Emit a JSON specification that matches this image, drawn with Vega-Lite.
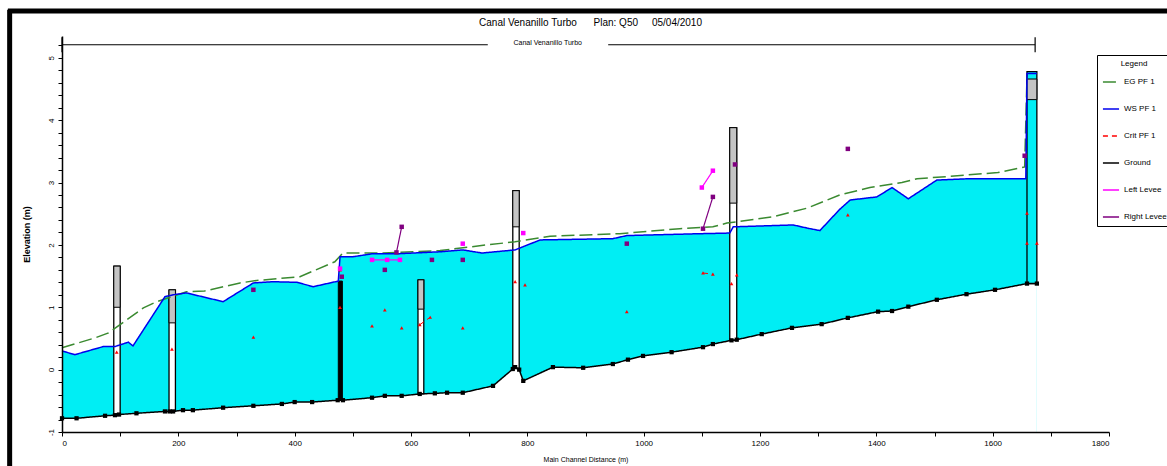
{
  "$schema": "https://vega.github.io/schema/vega-lite/v6.json",
  "width": 1047,
  "height": 396,
  "autosize": {"type": "none"},
  "padding": {"left": 62, "top": 36, "right": 58, "bottom": 34},
  "background": "white",
  "title": {"text": "Canal Venanillo Turbo\u00a0\u00a0\u00a0\u00a0\u00a0\u00a0Plan: Q50\u00a0\u00a0\u00a0\u00a0\u00a005/04/2010", "fontSize": 10, "font": "Liberation Sans", "fontWeight": "normal", "offset": -21, "anchor": "middle", "dx": 5, "color": "black"},
  "config": {"view": {"stroke": null}, "font": "Liberation Sans"},
  "datasets": {
    "ground": [
      {"s": "Ground", "m": 0, "v": -0.78}, {"s": "Ground", "m": 25, "v": -0.78}, {"s": "Ground", "m": 74, "v": -0.74}, {"s": "Ground", "m": 91, "v": -0.73}, {"s": "Ground", "m": 98, "v": -0.72},
      {"s": "Ground", "m": 128, "v": -0.70}, {"s": "Ground", "m": 177, "v": -0.67}, {"s": "Ground", "m": 185, "v": -0.67}, {"s": "Ground", "m": 191, "v": -0.67}, {"s": "Ground", "m": 208, "v": -0.65},
      {"s": "Ground", "m": 225, "v": -0.65}, {"s": "Ground", "m": 277, "v": -0.61}, {"s": "Ground", "m": 329, "v": -0.58}, {"s": "Ground", "m": 378, "v": -0.55}, {"s": "Ground", "m": 400, "v": -0.52},
      {"s": "Ground", "m": 430, "v": -0.52}, {"s": "Ground", "m": 474, "v": -0.49}, {"s": "Ground", "m": 483, "v": -0.49}, {"s": "Ground", "m": 533, "v": -0.45}, {"s": "Ground", "m": 555, "v": -0.42},
      {"s": "Ground", "m": 584, "v": -0.42}, {"s": "Ground", "m": 615, "v": -0.39}, {"s": "Ground", "m": 641, "v": -0.38}, {"s": "Ground", "m": 662, "v": -0.37}, {"s": "Ground", "m": 689, "v": -0.37},
      {"s": "Ground", "m": 741, "v": -0.26}, {"s": "Ground", "m": 775, "v": 0.01}, {"s": "Ground", "m": 779, "v": 0.04}, {"s": "Ground", "m": 786, "v": 0.0}, {"s": "Ground", "m": 793, "v": -0.18},
      {"s": "Ground", "m": 844, "v": 0.04}, {"s": "Ground", "m": 896, "v": 0.03}, {"s": "Ground", "m": 947, "v": 0.09}, {"s": "Ground", "m": 973, "v": 0.16}, {"s": "Ground", "m": 999, "v": 0.22},
      {"s": "Ground", "m": 1048, "v": 0.28}, {"s": "Ground", "m": 1102, "v": 0.36}, {"s": "Ground", "m": 1119, "v": 0.41}, {"s": "Ground", "m": 1151, "v": 0.47}, {"s": "Ground", "m": 1160, "v": 0.48},
      {"s": "Ground", "m": 1203, "v": 0.57}, {"s": "Ground", "m": 1255, "v": 0.67}, {"s": "Ground", "m": 1306, "v": 0.73}, {"s": "Ground", "m": 1351, "v": 0.83}, {"s": "Ground", "m": 1403, "v": 0.93},
      {"s": "Ground", "m": 1427, "v": 0.94}, {"s": "Ground", "m": 1455, "v": 1.01}, {"s": "Ground", "m": 1504, "v": 1.12}, {"s": "Ground", "m": 1555, "v": 1.21}, {"s": "Ground", "m": 1604, "v": 1.28},
      {"s": "Ground", "m": 1659, "v": 1.38}, {"s": "Ground", "m": 1676, "v": 1.38}
    ],
    "ws": [
      {"s": "WS PF 1", "m": 0, "v": 0.30}, {"s": "WS PF 1", "m": 22, "v": 0.24}, {"s": "WS PF 1", "m": 71, "v": 0.37}, {"s": "WS PF 1", "m": 91, "v": 0.37}, {"s": "WS PF 1", "m": 114, "v": 0.44},
      {"s": "WS PF 1", "m": 122, "v": 0.38}, {"s": "WS PF 1", "m": 177, "v": 1.17}, {"s": "WS PF 1", "m": 191, "v": 1.20}, {"s": "WS PF 1", "m": 214, "v": 1.23}, {"s": "WS PF 1", "m": 277, "v": 1.09},
      {"s": "WS PF 1", "m": 329, "v": 1.39}, {"s": "WS PF 1", "m": 363, "v": 1.41}, {"s": "WS PF 1", "m": 404, "v": 1.40}, {"s": "WS PF 1", "m": 432, "v": 1.33}, {"s": "WS PF 1", "m": 475, "v": 1.42},
      {"s": "WS PF 1", "m": 478, "v": 1.81}, {"s": "WS PF 1", "m": 500, "v": 1.81}, {"s": "WS PF 1", "m": 535, "v": 1.86}, {"s": "WS PF 1", "m": 581, "v": 1.86}, {"s": "WS PF 1", "m": 650, "v": 1.89},
      {"s": "WS PF 1", "m": 689, "v": 1.92}, {"s": "WS PF 1", "m": 722, "v": 1.87}, {"s": "WS PF 1", "m": 779, "v": 1.92}, {"s": "WS PF 1", "m": 822, "v": 2.08}, {"s": "WS PF 1", "m": 947, "v": 2.10},
      {"s": "WS PF 1", "m": 971, "v": 2.15}, {"s": "WS PF 1", "m": 1097, "v": 2.18}, {"s": "WS PF 1", "m": 1148, "v": 2.19}, {"s": "WS PF 1", "m": 1154, "v": 2.29}, {"s": "WS PF 1", "m": 1257, "v": 2.32},
      {"s": "WS PF 1", "m": 1281, "v": 2.27}, {"s": "WS PF 1", "m": 1303, "v": 2.23}, {"s": "WS PF 1", "m": 1337, "v": 2.57}, {"s": "WS PF 1", "m": 1355, "v": 2.72}, {"s": "WS PF 1", "m": 1401, "v": 2.77},
      {"s": "WS PF 1", "m": 1427, "v": 2.92}, {"s": "WS PF 1", "m": 1455, "v": 2.74}, {"s": "WS PF 1", "m": 1504, "v": 3.04}, {"s": "WS PF 1", "m": 1555, "v": 3.06}, {"s": "WS PF 1", "m": 1657, "v": 3.06},
      {"s": "WS PF 1", "m": 1659, "v": 4.75}, {"s": "WS PF 1", "m": 1676, "v": 4.75}
    ],
    "eg": [
      {"s": "EG PF 1", "m": 0, "v": 0.35}, {"s": "EG PF 1", "m": 57, "v": 0.51}, {"s": "EG PF 1", "m": 80, "v": 0.59}, {"s": "EG PF 1", "m": 140, "v": 0.99}, {"s": "EG PF 1", "m": 163, "v": 1.09},
      {"s": "EG PF 1", "m": 214, "v": 1.25}, {"s": "EG PF 1", "m": 245, "v": 1.26}, {"s": "EG PF 1", "m": 306, "v": 1.39}, {"s": "EG PF 1", "m": 335, "v": 1.43}, {"s": "EG PF 1", "m": 409, "v": 1.49},
      {"s": "EG PF 1", "m": 469, "v": 1.73}, {"s": "EG PF 1", "m": 483, "v": 1.87}, {"s": "EG PF 1", "m": 552, "v": 1.87}, {"s": "EG PF 1", "m": 650, "v": 1.91}, {"s": "EG PF 1", "m": 730, "v": 2.0},
      {"s": "EG PF 1", "m": 779, "v": 2.05}, {"s": "EG PF 1", "m": 839, "v": 2.14}, {"s": "EG PF 1", "m": 959, "v": 2.18}, {"s": "EG PF 1", "m": 1062, "v": 2.26}, {"s": "EG PF 1", "m": 1119, "v": 2.29},
      {"s": "EG PF 1", "m": 1143, "v": 2.35}, {"s": "EG PF 1", "m": 1222, "v": 2.45}, {"s": "EG PF 1", "m": 1281, "v": 2.59}, {"s": "EG PF 1", "m": 1337, "v": 2.80}, {"s": "EG PF 1", "m": 1389, "v": 2.92},
      {"s": "EG PF 1", "m": 1444, "v": 3.00}, {"s": "EG PF 1", "m": 1470, "v": 3.06}, {"s": "EG PF 1", "m": 1527, "v": 3.10}, {"s": "EG PF 1", "m": 1609, "v": 3.16}, {"s": "EG PF 1", "m": 1655, "v": 3.25},
      {"s": "EG PF 1", "m": 1659, "v": 4.70}
    ],
    "crit": [
      {"s": "Crit PF 1", "g": 1, "m": 94, "v": 0.28}, {"s": "Crit PF 1", "g": 2, "m": 189, "v": 0.33}, {"s": "Crit PF 1", "g": 3, "m": 329, "v": 0.52}, {"s": "Crit PF 1", "g": 4, "m": 478, "v": 1.60},
      {"s": "Crit PF 1", "g": 5, "m": 478, "v": 1.0}, {"s": "Crit PF 1", "g": 6, "m": 533, "v": 0.70}, {"s": "Crit PF 1", "g": 7, "m": 555, "v": 0.96}, {"s": "Crit PF 1", "g": 8, "m": 584, "v": 0.67},
      {"s": "Crit PF 1", "g": 9, "m": 615, "v": 0.72}, {"s": "Crit PF 1", "g": 9, "m": 633, "v": 0.84}, {"s": "Crit PF 1", "g": 10, "m": 689, "v": 0.67}, {"s": "Crit PF 1", "g": 11, "m": 779, "v": 1.41},
      {"s": "Crit PF 1", "g": 12, "m": 796, "v": 1.36}, {"s": "Crit PF 1", "g": 13, "m": 971, "v": 0.93}, {"s": "Crit PF 1", "g": 14, "m": 1102, "v": 1.55}, {"s": "Crit PF 1", "g": 14, "m": 1119, "v": 1.53},
      {"s": "Crit PF 1", "g": 15, "m": 1151, "v": 1.38}, {"s": "Crit PF 1", "g": 16, "m": 1160, "v": 1.52}, {"s": "Crit PF 1", "g": 17, "m": 1351, "v": 2.48}, {"s": "Crit PF 1", "g": 18, "m": 1659, "v": 2.51},
      {"s": "Crit PF 1", "g": 19, "m": 1659, "v": 2.03}, {"s": "Crit PF 1", "g": 20, "m": 1676, "v": 2.03}
    ],
    "levee": [
      {"s": "Left Levee", "g": 1, "m": 533, "v": 1.76}, {"s": "Left Levee", "g": 1, "m": 559, "v": 1.76}, {"s": "Left Levee", "g": 1, "m": 581, "v": 1.76},
      {"s": "Left Levee", "g": 2, "m": 689, "v": 2.02}, {"s": "Left Levee", "g": 3, "m": 793, "v": 2.19}, {"s": "Left Levee", "g": 4, "m": 1100, "v": 2.92}, {"s": "Left Levee", "g": 4, "m": 1119, "v": 3.19},
      {"s": "Left Levee", "g": 5, "m": 478, "v": 1.62},
      {"s": "Right Levee", "g": 11, "m": 329, "v": 1.28}, {"s": "Right Levee", "g": 12, "m": 481, "v": 1.49}, {"s": "Right Levee", "g": 13, "m": 555, "v": 1.60},
      {"s": "Right Levee", "g": 14, "m": 575, "v": 1.88}, {"s": "Right Levee", "g": 14, "m": 584, "v": 2.29}, {"s": "Right Levee", "g": 15, "m": 636, "v": 1.76},
      {"s": "Right Levee", "g": 16, "m": 689, "v": 1.76}, {"s": "Right Levee", "g": 17, "m": 971, "v": 2.02}, {"s": "Right Levee", "g": 18, "m": 1102, "v": 2.26}, {"s": "Right Levee", "g": 18, "m": 1119, "v": 2.77},
      {"s": "Right Levee", "g": 19, "m": 1157, "v": 3.29}, {"s": "Right Levee", "g": 20, "m": 1351, "v": 3.54}, {"s": "Right Levee", "g": 21, "m": 1655, "v": 3.43}
    ],
    "structures": [
      {"k": "bridge", "m": 89, "m2": 100, "b": -0.73, "t": 1.66, "d": 1.0, "d2": 1.66},
      {"k": "bridge", "m": 184, "m2": 195, "b": -0.67, "t": 1.28, "d": 0.75, "d2": 1.28},
      {"k": "weir", "m": 475, "m2": 482, "b": -0.49, "t": 1.42, "d": 1.42, "d2": 1.42},
      {"k": "bridge", "m": 612, "m2": 622, "b": -0.39, "t": 1.44, "d": 0.97, "d2": 1.44},
      {"k": "bridge", "m": 775, "m2": 786, "b": 0.02, "t": 2.87, "d": 2.29, "d2": 2.87},
      {"k": "bridge", "m": 1148, "m2": 1160, "b": 0.47, "t": 3.88, "d": 2.67, "d2": 3.88},
      {"k": "end", "m": 1659, "m2": 1676, "b": 1.38, "t": 4.78, "d": 4.33, "d2": 4.66}
    ],
    "reach": [
      {"m": 0, "m2": 732, "v": 5.21, "v2": 5.21},
      {"m": 939, "m2": 1673, "v": 5.21, "v2": 5.21},
      {"m": 0, "m2": 0, "v": 5.09, "v2": 5.33},
      {"m": 1673, "m2": 1673, "v": 5.09, "v2": 5.33}
    ],
    "frame": [
      {"m": -93, "m2": 1905, "v": 5.75, "v2": 5.75},
      {"m": -90, "m2": -90, "v": -1.6, "v2": 5.77}
    ]
  },
  "layer": [
    {
      "data": {"name": "ws"},
      "mark": {"type": "area", "color": "#00eef4", "opacity": 1},
      "encoding": {
        "x": {"field": "m", "type": "quantitative", "scale": {"domain": [0, 1800], "nice": false, "zero": false},
          "title": "Main Channel Distance (m)",
          "axis": {"values": [0, 100, 200, 300, 400, 500, 600, 700, 800, 900, 1000, 1100, 1200, 1300, 1400, 1500, 1600, 1700, 1800], "tickCount": 40,
            "labelExpr": "datum.value % 200 == 0 ? datum.label : ''", "format": "d", "labelFontSize": 8, "labelColor": "black", "labelOverlap": false,
            "tickSize": 4, "tickColor": "black", "domainColor": "black", "domainWidth": 1.5, "grid": false, "zindex": 1,
            "titleFontSize": 7, "titleFontWeight": "normal", "titleColor": "black", "titlePadding": 8, "labelPadding": 3}},
        "y": {"field": "v", "type": "quantitative", "scale": {"domain": [-1, 5.35], "nice": false, "zero": false},
          "title": "Elevation (m)",
          "axis": {"values": [-1, -0.8, -0.6, -0.4, -0.2, 0, 0.2, 0.4, 0.6, 0.8, 1, 1.2, 1.4, 1.6, 1.8, 2, 2.2, 2.4, 2.6, 2.8, 3, 3.2, 3.4, 3.6, 3.8, 4, 4.2, 4.4, 4.6, 4.8, 5, 5.2], "tickCount": 40,
            "labelExpr": "abs(datum.value - round(datum.value)) < 0.01 ? '' + round(datum.value) : ''", "labelAngle": 270, "labelAlign": "center", "labelBaseline": "bottom", "labelFontSize": 8, "labelColor": "black", "labelOverlap": false, "labelBound": false, "labelFlush": false,
            "tickSize": 4, "tickColor": "black", "domainColor": "black", "domainWidth": 1.5, "grid": false, "zindex": 1,
            "titleFontSize": 9, "titleFontWeight": "bold", "titleColor": "black", "titlePadding": 16, "labelPadding": 3}},
        "y2": {"datum": -1}
      }
    },
    {
      "data": {"name": "ground"},
      "mark": {"type": "area", "color": "white", "opacity": 1},
      "encoding": {
        "x": {"field": "m", "type": "quantitative", "title": "Main Channel Distance (m)"},
        "y": {"field": "v", "type": "quantitative", "title": "Elevation (m)"},
        "y2": {"datum": -1}
      }
    },
    {
      "data": {"name": "structures"},
      "transform": [{"filter": "datum.k == 'bridge'"}],
      "mark": {"type": "rect", "fill": "white", "stroke": "black", "strokeWidth": 1.3},
      "encoding": {
        "x": {"field": "m", "type": "quantitative", "title": "Main Channel Distance (m)"}, "x2": {"field": "m2"},
        "y": {"field": "b", "type": "quantitative", "title": "Elevation (m)"}, "y2": {"field": "t"}
      }
    },
    {
      "data": {"name": "structures"},
      "transform": [{"filter": "datum.k == 'end'"}],
      "mark": {"type": "rect", "fill": "#00eef4", "stroke": "black", "strokeWidth": 1.3},
      "encoding": {
        "x": {"field": "m", "type": "quantitative", "title": "Main Channel Distance (m)"}, "x2": {"field": "m2"},
        "y": {"field": "b", "type": "quantitative", "title": "Elevation (m)"}, "y2": {"field": "t"}
      }
    },
    {
      "data": {"name": "structures"},
      "transform": [{"filter": "datum.k != 'weir'"}],
      "mark": {"type": "rect", "fill": "#c4c4c4", "stroke": "black", "strokeWidth": 1},
      "encoding": {
        "x": {"field": "m", "type": "quantitative", "title": "Main Channel Distance (m)"}, "x2": {"field": "m2"},
        "y": {"field": "d", "type": "quantitative", "title": "Elevation (m)"}, "y2": {"field": "d2"}
      }
    },
    {
      "data": {"name": "structures"},
      "transform": [{"filter": "datum.k == 'weir'"}],
      "mark": {"type": "rect", "fill": "black", "stroke": "black", "strokeWidth": 1},
      "encoding": {
        "x": {"field": "m", "type": "quantitative", "title": "Main Channel Distance (m)"}, "x2": {"field": "m2"},
        "y": {"field": "b", "type": "quantitative", "title": "Elevation (m)"}, "y2": {"field": "t"}
      }
    },
    {
      "data": {"name": "eg"},
      "mark": {"type": "line", "strokeWidth": 1.5},
      "encoding": {
        "x": {"field": "m", "type": "quantitative", "title": "Main Channel Distance (m)"},
        "y": {"field": "v", "type": "quantitative", "title": "Elevation (m)"},
        "color": {"field": "s", "type": "nominal", "title": "Legend",
          "scale": {"domain": ["EG PF 1", "WS PF 1", "Crit PF 1", "Ground", "Left Levee", "Right Levee"], "range": ["#3a8a30", "#0000ee", "#ff0000", "#000000", "#ff00ff", "#800080"]},
          "legend": {"orient": "none", "legendX": 1035, "legendY": 19, "symbolType": "stroke", "symbolSize": 260, "symbolStrokeWidth": 1.5,
            "labelFontSize": 8, "labelColor": "black", "titleFontSize": 8, "titleColor": "black", "titleFontWeight": "normal", "titleAnchor": "middle",
            "strokeColor": "black", "padding": 5, "rowPadding": 14, "fillColor": "white", "labelLimit": 60}},
        "strokeDash": {"field": "s", "type": "nominal", "title": "Legend",
          "scale": {"domain": ["EG PF 1", "WS PF 1", "Crit PF 1", "Ground", "Left Levee", "Right Levee"], "range": [[13, 5], [1, 0], [5, 4], [1, 0], [1, 0], [1, 0]]}}
      }
    },
    {
      "data": {"name": "ws"},
      "mark": {"type": "line", "strokeWidth": 1.5},
      "encoding": {
        "x": {"field": "m", "type": "quantitative", "title": "Main Channel Distance (m)"},
        "y": {"field": "v", "type": "quantitative", "title": "Elevation (m)"},
        "color": {"field": "s", "type": "nominal", "title": "Legend"},
        "strokeDash": {"field": "s", "type": "nominal", "title": "Legend"}
      }
    },
    {
      "data": {"name": "ground"},
      "mark": {"type": "line", "strokeWidth": 1.5, "point": {"shape": "square", "filled": true, "size": 18}},
      "encoding": {
        "x": {"field": "m", "type": "quantitative", "title": "Main Channel Distance (m)"},
        "y": {"field": "v", "type": "quantitative", "title": "Elevation (m)"},
        "color": {"field": "s", "type": "nominal", "title": "Legend"},
        "strokeDash": {"field": "s", "type": "nominal", "title": "Legend"}
      }
    },
    {
      "data": {"name": "crit"},
      "mark": {"type": "line", "strokeWidth": 1, "point": {"shape": "triangle-up", "filled": true, "size": 14}},
      "encoding": {
        "x": {"field": "m", "type": "quantitative", "title": "Main Channel Distance (m)"},
        "y": {"field": "v", "type": "quantitative", "title": "Elevation (m)"},
        "detail": {"field": "g"},
        "color": {"field": "s", "type": "nominal", "title": "Legend"},
        "strokeDash": {"field": "s", "type": "nominal", "title": "Legend"}
      }
    },
    {
      "data": {"name": "levee"},
      "mark": {"type": "line", "strokeWidth": 1.2, "point": {"shape": "square", "filled": true, "size": 20}},
      "encoding": {
        "x": {"field": "m", "type": "quantitative", "title": "Main Channel Distance (m)"},
        "y": {"field": "v", "type": "quantitative", "title": "Elevation (m)"},
        "detail": {"field": "g"},
        "color": {"field": "s", "type": "nominal", "title": "Legend"},
        "strokeDash": {"field": "s", "type": "nominal", "title": "Legend"}
      }
    },
    {
      "data": {"name": "reach"},
      "mark": {"type": "rule", "color": "black", "strokeWidth": 1.2},
      "encoding": {
        "x": {"field": "m", "type": "quantitative", "title": "Main Channel Distance (m)"}, "x2": {"field": "m2"},
        "y": {"field": "v", "type": "quantitative", "title": "Elevation (m)"}, "y2": {"field": "v2"}
      }
    },
    {
      "data": {"values": [{"m": 835, "v": 5.23, "t": "Canal Venanillo Turbo"}]},
      "mark": {"type": "text", "fontSize": 7, "color": "black", "baseline": "middle", "align": "center"},
      "encoding": {
        "x": {"field": "m", "type": "quantitative", "title": "Main Channel Distance (m)"},
        "y": {"field": "v", "type": "quantitative", "title": "Elevation (m)"},
        "text": {"field": "t"}
      }
    },
    {
      "data": {"name": "frame"},
      "mark": {"type": "rule", "color": "black", "strokeWidth": 5, "clip": false},
      "encoding": {
        "x": {"field": "m", "type": "quantitative", "title": "Main Channel Distance (m)"}, "x2": {"field": "m2"},
        "y": {"field": "v", "type": "quantitative", "title": "Elevation (m)"}, "y2": {"field": "v2"}
      }
    }
  ]
}
